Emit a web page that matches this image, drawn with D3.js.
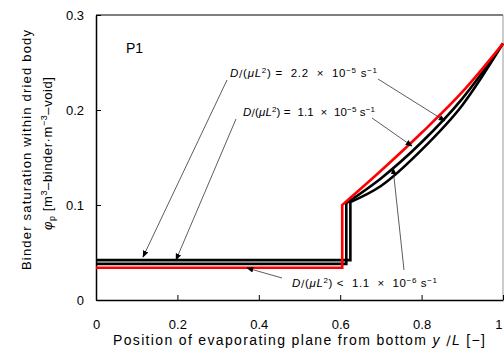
<!DOCTYPE html>
<html><head><meta charset="utf-8">
<script src="https://cdn.jsdelivr.net/npm/d3@7"></script>
<style>
html,body{margin:0;padding:0;background:#fff;}
text{font-family:"Liberation Sans",Arial,sans-serif;fill:#000;white-space:pre;}
</style></head>
<body><svg id="c" width="504" height="357"></svg>
<script>
// ---- data ----
const xTicks = [0, 0.2, 0.4, 0.6, 0.8, 1];
const xTickLabels = ["0", "0.2", "0.4", "0.6", "0.8", "1"];
const yTicks = [0, 0.1, 0.2, 0.3];
const yTickLabels = ["0", "0.1", "0.2", "0.3"];

// D/(muL^2) = 2.2e-5 s^-1 (black)
const posA = [0, 0.625, 0.625, 0.7, 0.8, 0.9, 1.0];
const phiA = [0.042, 0.042, 0.103, 0.120, 0.158, 0.205, 0.270];
// D/(muL^2) = 1.1e-5 s^-1 (black)
const posB = [0, 0.615, 0.615, 0.7, 0.8, 0.9, 1.0];
const phiB = [0.038, 0.038, 0.102, 0.128, 0.166, 0.212, 0.270];
// D/(muL^2) < 1.1e-6 s^-1 (red)
const posC = [0, 0.605, 0.605, 0.7, 0.8, 0.9, 1.0];
const phiC = [0.034, 0.034, 0.100, 0.136, 0.176, 0.219, 0.270];

const seriesColors = ["#000", "#000", "#ff0000"];

// ---- layout ----
const svg = d3.select("#c");
const x = d3.scaleLinear().domain([0, 1]).range([96, 503]);
const y = d3.scaleLinear().domain([0, 0.3]).range([300, 15]);

// frame
svg.append("line").attr("x1", x(0)).attr("x2", x(1)).attr("y1", y(0.3)).attr("y2", y(0.3))
  .attr("stroke", "#000").attr("stroke-width", 1.2);
svg.append("line").attr("x1", x(1)).attr("x2", x(1)).attr("y1", y(0.3)).attr("y2", y(0))
  .attr("stroke", "#999").attr("stroke-width", 1);

// axes
const xAxis = d3.axisBottom(x).tickValues(xTicks).tickFormat((d, i) => xTickLabels[i])
  .tickSizeInner(-5).tickSizeOuter(0).tickPadding(20);
const gx = svg.append("g").attr("transform", `translate(0,${y(0)})`).call(xAxis);
gx.select(".domain").attr("stroke", "#000").attr("stroke-width", 1.5);
gx.selectAll(".tick line").attr("stroke", "#000");
gx.selectAll("text").attr("font-size", 13).attr("font-family", "Liberation Sans, Arial, sans-serif");
gx.selectAll(".tick text").filter(d => d === 1).attr("text-anchor", "end").attr("dx", -1);

const yAxis = d3.axisLeft(y).tickValues(yTicks).tickFormat((d, i) => yTickLabels[i])
  .tickSizeInner(-5).tickSizeOuter(0).tickPadding(12);
const gy = svg.append("g").attr("transform", `translate(${x(0)},0)`).call(yAxis);
gy.select(".domain").attr("stroke", "#000").attr("stroke-width", 1.5);
gy.selectAll(".tick line").attr("stroke", "#000");
gy.selectAll("text").attr("font-size", 13).attr("font-family", "Liberation Sans, Arial, sans-serif");

// series
const lin = d3.line().x(d => x(d[0])).y(d => y(d[1]));
const smooth = d3.line().x(d => x(d[0])).y(d => y(d[1])).curve(d3.curveMonotoneX);
function pathFor(pos, phi) {
  const pts = pos.map((p, i) => [p, phi[i]]);
  const a = lin(pts.slice(0, 3));
  const b = smooth(pts.slice(2));
  return a + b.substring(b.search(/[LC]/));
}
const allPos = [posA, posB, posC];
const allPhi = [phiA, phiB, phiC];
allPos.forEach((pos, i) => {
  svg.append("path").attr("d", pathFor(pos, allPhi[i]))
    .attr("fill", "none").attr("stroke", seriesColors[i])
    .attr("stroke-width", 2.6).attr("stroke-linejoin", "miter");
});

// arrow marker
svg.append("defs").append("marker").attr("id", "ah")
  .attr("viewBox", "0 0 10 10").attr("refX", 9).attr("refY", 5)
  .attr("markerWidth", 7).attr("markerHeight", 7).attr("markerUnits", "userSpaceOnUse")
  .attr("orient", "auto")
  .append("path").attr("d", "M0,1 L10,5 L0,9 Z").attr("fill", "#000");

function arrow(x1, y1, x2, y2) {
  svg.append("line").attr("x1", x1).attr("y1", y1).attr("x2", x2).attr("y2", y2)
    .attr("stroke", "#333").attr("stroke-width", 0.8).attr("marker-end", "url(#ah)");
}
arrow(227, 80, 143, 257);
arrow(378, 79, 445, 121);
arrow(236, 119, 176, 260);
arrow(372, 118, 412, 146);
arrow(282, 278, 247, 268);
arrow(404, 270, 393, 168);

// annotation labels
function dLabel(tx, ty, op, coef, exp, len) {
  const t = svg.append("text").attr("x", tx).attr("y", ty).attr("font-size", 11.5)
    .attr("textLength", len).attr("lengthAdjust", "spacing");
  t.append("tspan").attr("font-style", "italic").text("D");
  t.append("tspan").attr("font-family", "DejaVu Sans").attr("font-size", 10).text("∕");
  t.append("tspan").text("(");
  t.append("tspan").attr("font-style", "italic").text("μL");
  t.append("tspan").attr("font-size", 8).attr("dy", -4).text("2");
  t.append("tspan").attr("dy", 4).text(")" + op + "  " + coef + "  ×  10");
  t.append("tspan").attr("font-size", 8).attr("dy", -4).text("−" + exp);
  t.append("tspan").attr("dy", 4).text(" s");
  t.append("tspan").attr("font-size", 8).attr("dy", -4).text("−1");
}
dLabel(230, 77, " =", "2.2", "5", 147);
dLabel(243, 116, " =", "1.1", "5", 132);
dLabel(292, 287, " <", "1.1", "6", 145);

// P1
svg.append("text").attr("x", 126).attr("y", 53).attr("font-size", 14).text("P1");

// x axis title
const xt = svg.append("text").attr("x", 113).attr("y", 345).attr("font-size", 14)
  .attr("textLength", 372).attr("lengthAdjust", "spacing");
xt.append("tspan").text("Position of evaporating plane from bottom ");
xt.append("tspan").attr("font-style", "italic").text("y");
xt.append("tspan").attr("font-family", "DejaVu Sans").attr("font-size", 13).text(" ∕");
xt.append("tspan").attr("font-style", "italic").text("L");
xt.append("tspan").text(" [−]");

// y axis titles
svg.append("text").attr("transform", "translate(31,270) rotate(-90)")
  .attr("font-size", 13).attr("textLength", 240).attr("lengthAdjust", "spacing")
  .text("Binder saturation within dried body");
const yt = svg.append("text").attr("transform", "translate(52,230) rotate(-90)")
  .attr("font-size", 13).attr("textLength", 153).attr("lengthAdjust", "spacing");
yt.append("tspan").attr("font-style", "italic").text("φ");
yt.append("tspan").attr("font-size", 9).attr("dy", 3).text("p");
yt.append("tspan").attr("dy", -3).text(" [m");
yt.append("tspan").attr("font-size", 9).attr("dy", -5).text("3");
yt.append("tspan").attr("dy", 5).text("–binder·m");
yt.append("tspan").attr("font-size", 9).attr("dy", -5).text("−3");
yt.append("tspan").attr("dy", 5).text("–void]");
</script></body></html>
